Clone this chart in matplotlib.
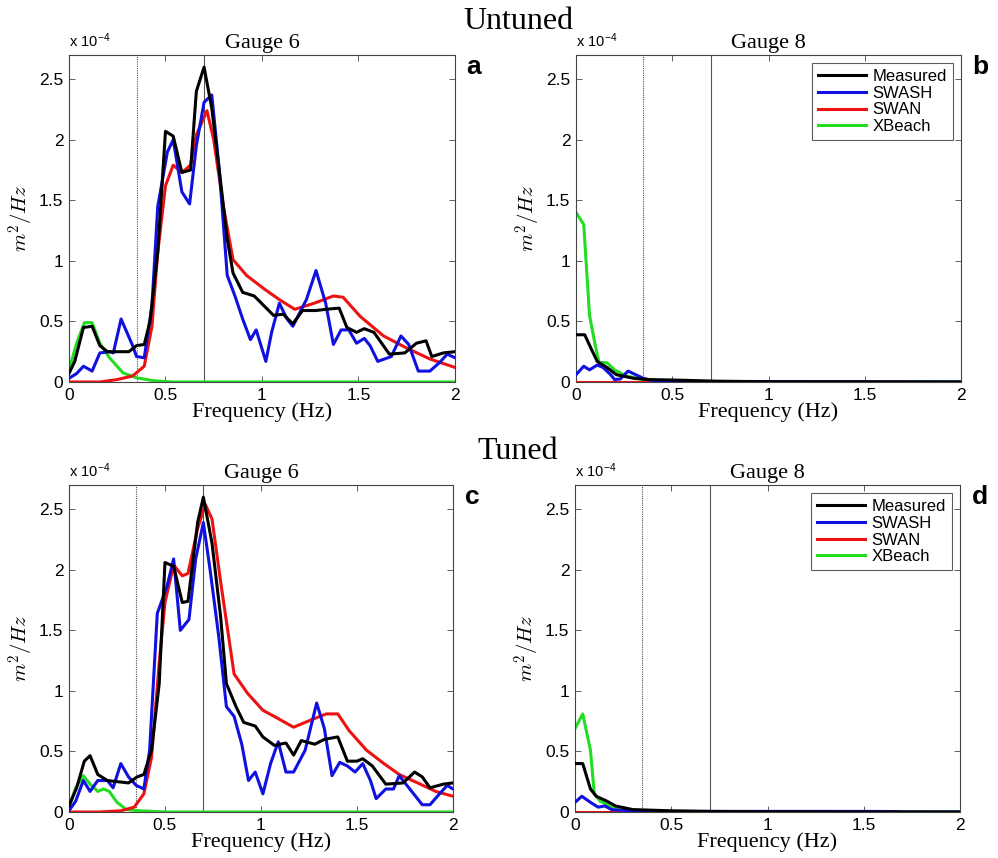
import matplotlib
matplotlib.use("Agg")
import matplotlib.pyplot as plt

plt.rcParams['mathtext.fontset'] = 'cm'

# ---- panel a: untuned, gauge 6 ----
a_meas_f = [0, 0.03, 0.075, 0.12, 0.16, 0.2, 0.31, 0.35, 0.39, 0.42, 0.46, 0.5, 0.54, 0.585, 0.63, 0.66, 0.7, 0.74,
            0.78, 0.82, 0.85, 0.9, 0.96, 1.01, 1.06, 1.11, 1.16, 1.21, 1.28, 1.33, 1.4, 1.44, 1.49, 1.53, 1.58, 1.66,
            1.74, 1.8, 1.85, 1.88, 1.94, 2.0]
a_meas = [0.07, 0.17, 0.45, 0.46, 0.30, 0.25, 0.25, 0.30, 0.31, 0.5, 1.07, 2.07, 2.03, 1.73, 1.75, 2.4, 2.6, 2.26,
          1.73, 1.18, 0.9, 0.74, 0.71, 0.63, 0.55, 0.56, 0.48, 0.59, 0.59, 0.6, 0.61, 0.45, 0.41, 0.44, 0.41, 0.23,
          0.24, 0.32, 0.34, 0.21, 0.24, 0.25]
a_swash_f = [0, 0.04, 0.075, 0.12, 0.16, 0.21, 0.23, 0.27, 0.33, 0.35, 0.39, 0.43, 0.46, 0.51, 0.54, 0.585, 0.625,
             0.66, 0.7, 0.74, 0.78, 0.82, 0.86, 0.9, 0.94, 0.97, 1.02, 1.05, 1.09, 1.13, 1.16, 1.23, 1.28, 1.33, 1.37,
             1.41, 1.45, 1.49, 1.53, 1.56, 1.6, 1.67, 1.72, 1.76, 1.81, 1.87, 1.92, 1.96, 2.0]
a_swash = [0.03, 0.07, 0.13, 0.09, 0.24, 0.25, 0.24, 0.52, 0.30, 0.21, 0.20, 0.63, 1.45, 1.9, 2.0, 1.57, 1.47,
           1.95, 2.31, 2.37, 1.73, 0.88, 0.71, 0.52, 0.35, 0.43, 0.17, 0.41, 0.65, 0.52, 0.46, 0.68, 0.92, 0.65, 0.31,
           0.43, 0.43, 0.32, 0.36, 0.3, 0.17, 0.21, 0.38, 0.31, 0.09, 0.09, 0.16, 0.23, 0.2]
a_swan_f = [0, 0.16, 0.25, 0.33, 0.39, 0.43, 0.46, 0.5, 0.54, 0.585, 0.63, 0.66, 0.715, 0.75, 0.8, 0.85, 0.92, 1.01,
            1.09, 1.17, 1.27, 1.37, 1.42, 1.51, 1.63, 1.75, 1.87, 2.0]
a_swan = [0, 0, 0.02, 0.05, 0.13, 0.46, 1.07, 1.62, 1.79, 1.73, 1.79, 2.04, 2.24, 2.0, 1.45, 1.01, 0.88, 0.77,
          0.68, 0.6, 0.65, 0.71, 0.70, 0.54, 0.38, 0.28, 0.19, 0.12]
a_xb_f = [0, 0.04, 0.08, 0.12, 0.16, 0.21, 0.28, 0.35, 0.44, 0.54, 2.0]
a_xb = [0.1, 0.32, 0.49, 0.49, 0.32, 0.2, 0.075, 0.035, 0.01, 0, 0]

# ---- panel b: untuned, gauge 8 ----
b_meas_f = [0, 0.045, 0.08, 0.11, 0.16, 0.21, 0.3, 0.38, 0.56, 0.73, 1.0, 2.0]
b_meas = [0.39, 0.39, 0.27, 0.17, 0.12, 0.06, 0.03, 0.02, 0.014, 0.006, 0.002, 0]
b_swash_f = [0, 0.04, 0.07, 0.11, 0.14, 0.18, 0.2, 0.23, 0.27, 0.31, 0.35, 0.4, 0.64, 1.17, 2.0]
b_swash = [0.06, 0.13, 0.1, 0.14, 0.12, 0.06, 0.02, 0.025, 0.09, 0.06, 0.03, 0.01, 0.005, 0.003, 0]
b_swan_f = [0, 2.0]
b_swan = [0, 0]
b_xb_f = [0, 0.04, 0.07, 0.1, 0.12, 0.16, 0.2, 0.26, 0.35, 0.47, 0.64, 2.0]
b_xb = [1.4, 1.3, 0.55, 0.3, 0.16, 0.16, 0.1, 0.05, 0.02, 0.006, 0, 0]

# ---- panel c: tuned, gauge 6 ----
c_meas_f = [0, 0.04, 0.08, 0.11, 0.15, 0.2, 0.31, 0.355, 0.39, 0.43, 0.47, 0.5, 0.545, 0.59, 0.62, 0.67, 0.7, 0.745,
            0.79, 0.82, 0.87, 0.91, 0.97, 1.01, 1.07, 1.13, 1.17, 1.21, 1.28, 1.33, 1.4, 1.45, 1.5, 1.53, 1.58, 1.65,
            1.74, 1.8, 1.84, 1.88, 1.95, 2.0]
c_meas = [0.05, 0.2, 0.42, 0.465, 0.31, 0.26, 0.24, 0.29, 0.31, 0.51, 1.06, 2.06, 2.03, 1.73, 1.74, 2.39, 2.6, 2.22,
          1.61, 1.06, 0.87, 0.74, 0.71, 0.62, 0.55, 0.57, 0.47, 0.59, 0.56, 0.6, 0.62, 0.42, 0.42, 0.44, 0.38, 0.23,
          0.24, 0.33, 0.29, 0.2, 0.23, 0.24]
c_swash_f = [0, 0.035, 0.075, 0.11, 0.15, 0.2, 0.23, 0.27, 0.31, 0.35, 0.39, 0.42, 0.46, 0.51, 0.545, 0.58, 0.625,
             0.66, 0.7, 0.735, 0.78, 0.82, 0.86, 0.9, 0.935, 0.97, 1.01, 1.05, 1.09, 1.13, 1.17, 1.23, 1.29, 1.33,
             1.37, 1.41, 1.45, 1.49, 1.53, 1.57, 1.6, 1.65, 1.69, 1.72, 1.77, 1.84, 1.88, 1.93, 1.97, 2.0]
c_swash = [0.01, 0.09, 0.26, 0.17, 0.26, 0.26, 0.2, 0.40, 0.29, 0.22, 0.19, 0.51, 1.64, 1.86, 2.09, 1.5, 1.59,
           2.09, 2.39, 2.0, 1.45, 0.87, 0.79, 0.56, 0.26, 0.33, 0.15, 0.4, 0.58, 0.33, 0.33, 0.51, 0.9, 0.69,
           0.30, 0.41, 0.38, 0.33, 0.4, 0.26, 0.11, 0.19, 0.19, 0.3, 0.2, 0.06, 0.06, 0.15, 0.22, 0.19]
c_swan_f = [0, 0.16, 0.27, 0.34, 0.39, 0.43, 0.47, 0.5, 0.545, 0.59, 0.62, 0.67, 0.71, 0.745, 0.79, 0.86, 0.93,
            1.01, 1.08, 1.17, 1.26, 1.34, 1.4, 1.46, 1.55, 1.64, 1.72, 1.83, 1.91, 2.0]
c_swan = [0, 0, 0.01, 0.04, 0.15, 0.45, 1.23, 1.73, 2.04, 1.95, 1.97, 2.34, 2.54, 2.42, 1.9, 1.14, 0.98, 0.84,
          0.78, 0.7, 0.76, 0.81, 0.81, 0.67, 0.51, 0.4, 0.31, 0.23, 0.17, 0.13]
c_xb_f = [0, 0.035, 0.075, 0.11, 0.15, 0.18, 0.21, 0.25, 0.3, 0.37, 0.51, 2.0]
c_xb = [0.04, 0.2, 0.3, 0.23, 0.17, 0.19, 0.17, 0.08, 0.02, 0.01, 0, 0]

# ---- panel d: tuned, gauge 8 ----
d_meas_f = [0, 0.04, 0.08, 0.11, 0.165, 0.21, 0.3, 0.5, 0.7, 1.0, 2.0]
d_meas = [0.4, 0.4, 0.19, 0.13, 0.09, 0.05, 0.02, 0.01, 0.005, 0.002, 0]
d_swash_f = [0, 0.035, 0.08, 0.12, 0.155, 0.19, 0.23, 0.4, 0.85, 1.5, 1.65, 1.7, 2.0]
d_swash = [0.08, 0.13, 0.08, 0.04, 0.05, 0.02, 0.015, 0.005, 0.005, 0.005, 0.004, 0, 0]
d_swan_f = [0, 2.0]
d_swan = [0, 0]
d_xb_f = [0, 0.04, 0.08, 0.1, 0.13, 0.18, 0.27, 0.355, 0.5, 2.0]
d_xb = [0.69, 0.81, 0.51, 0.15, 0.09, 0.05, 0.02, 0.01, 0, 0]

labels = ['Measured', 'SWASH', 'SWAN', 'XBeach']
colors = ['black', '#1010e0', '#ee1111', '#22dd22']
xticks = [0, 0.5, 1, 1.5, 2]
yticks = [0, 0.5, 1, 1.5, 2, 2.5]
yticklabels = ['0', '0.5', '1', '1.5', '2', '2.5']

panels = [
    ('a', 'Gauge 6', [(a_meas_f, a_meas), (a_swash_f, a_swash), (a_swan_f, a_swan), (a_xb_f, a_xb)], False),
    ('b', 'Gauge 8', [(b_meas_f, b_meas), (b_swash_f, b_swash), (b_swan_f, b_swan), (b_xb_f, b_xb)], True),
    ('c', 'Gauge 6', [(c_meas_f, c_meas), (c_swash_f, c_swash), (c_swan_f, c_swan), (c_xb_f, c_xb)], False),
    ('d', 'Gauge 8', [(d_meas_f, d_meas), (d_swash_f, d_swash), (d_swan_f, d_swan), (d_xb_f, d_xb)], True),
]
positions = [
    [0.0691, 0.5548, 0.3868, 0.3811],
    [0.5772, 0.5548, 0.3858, 0.3811],
    [0.0691, 0.0536, 0.3848, 0.3811],
    [0.5762, 0.0536, 0.3858, 0.3811],
]

fig = plt.figure(figsize=(9.98, 8.58), dpi=100)

sans = 'Liberation Sans'
serif = 'Liberation Serif'

for (letter, title, series, legend), pos in zip(panels, positions):
    ax = fig.add_axes(pos)
    ax.axvline(0.35, color='#555555', lw=0.8, ls=(0, (1, 1)), zorder=1)
    ax.axvline(0.7, color='#555555', lw=0.8, zorder=1)
    order = [3, 2, 1, 0] if letter in 'ac' else [2, 3, 1, 0]
    lines = {}
    for i in order:
        f, v = series[i]
        lines[i], = ax.plot(f, v, color=colors[i], lw=2.2, label=labels[i], zorder=2 + (3 - i))
    ax.set_xlim(0, 2)
    ax.set_ylim(0, 2.7)
    ax.set_xticks(xticks)
    ax.set_xticklabels(['0', '0.5', '1', '1.5', '2'], fontfamily=sans, fontsize=12.5)
    ax.set_yticks(yticks)
    ax.set_yticklabels(yticklabels, fontfamily=sans, fontsize=12.5)
    ax.tick_params(direction='in', top=True, right=True, length=4, width=0.6, color='#444444', pad=4)
    for s in ax.spines.values():
        s.set_color('#444444')
        s.set_linewidth(0.8)
    ax.set_title(title, fontfamily=serif, fontsize=16, pad=5)
    ax.set_xlabel('Frequency (Hz)', fontfamily=serif, fontsize=16, labelpad=0)
    ax.set_ylabel(r'$m^2/Hz$', fontsize=15, labelpad=2)
    ax.text(0.0, 1.015, r'x 10$^{\mathregular{-4}}$', transform=ax.transAxes, fontfamily=sans,
            fontsize=10.5, ha='left', va='bottom')
    ax.text(1.03, 1.0, letter, transform=ax.transAxes, fontfamily=sans, fontweight='bold',
            fontsize=19, ha='left', va='top')
    if legend:
        leg = ax.legend([lines[i] for i in range(4)], labels, loc='upper right', prop={'family': sans, 'size': 12},
                        frameon=True, fancybox=False, edgecolor='#333333', handlelength=2.9, handletextpad=0.4,
                        labelspacing=0.1, borderpad=0.35, borderaxespad=0.5)
        leg.get_frame().set_linewidth(0.8)

fig.text(0.519, 0.975, 'Untuned', fontfamily=serif, fontsize=23, ha='center', va='center')
fig.text(0.519, 0.474, 'Tuned', fontfamily=serif, fontsize=23, ha='center', va='center')

fig.savefig('out.png', dpi=100)
